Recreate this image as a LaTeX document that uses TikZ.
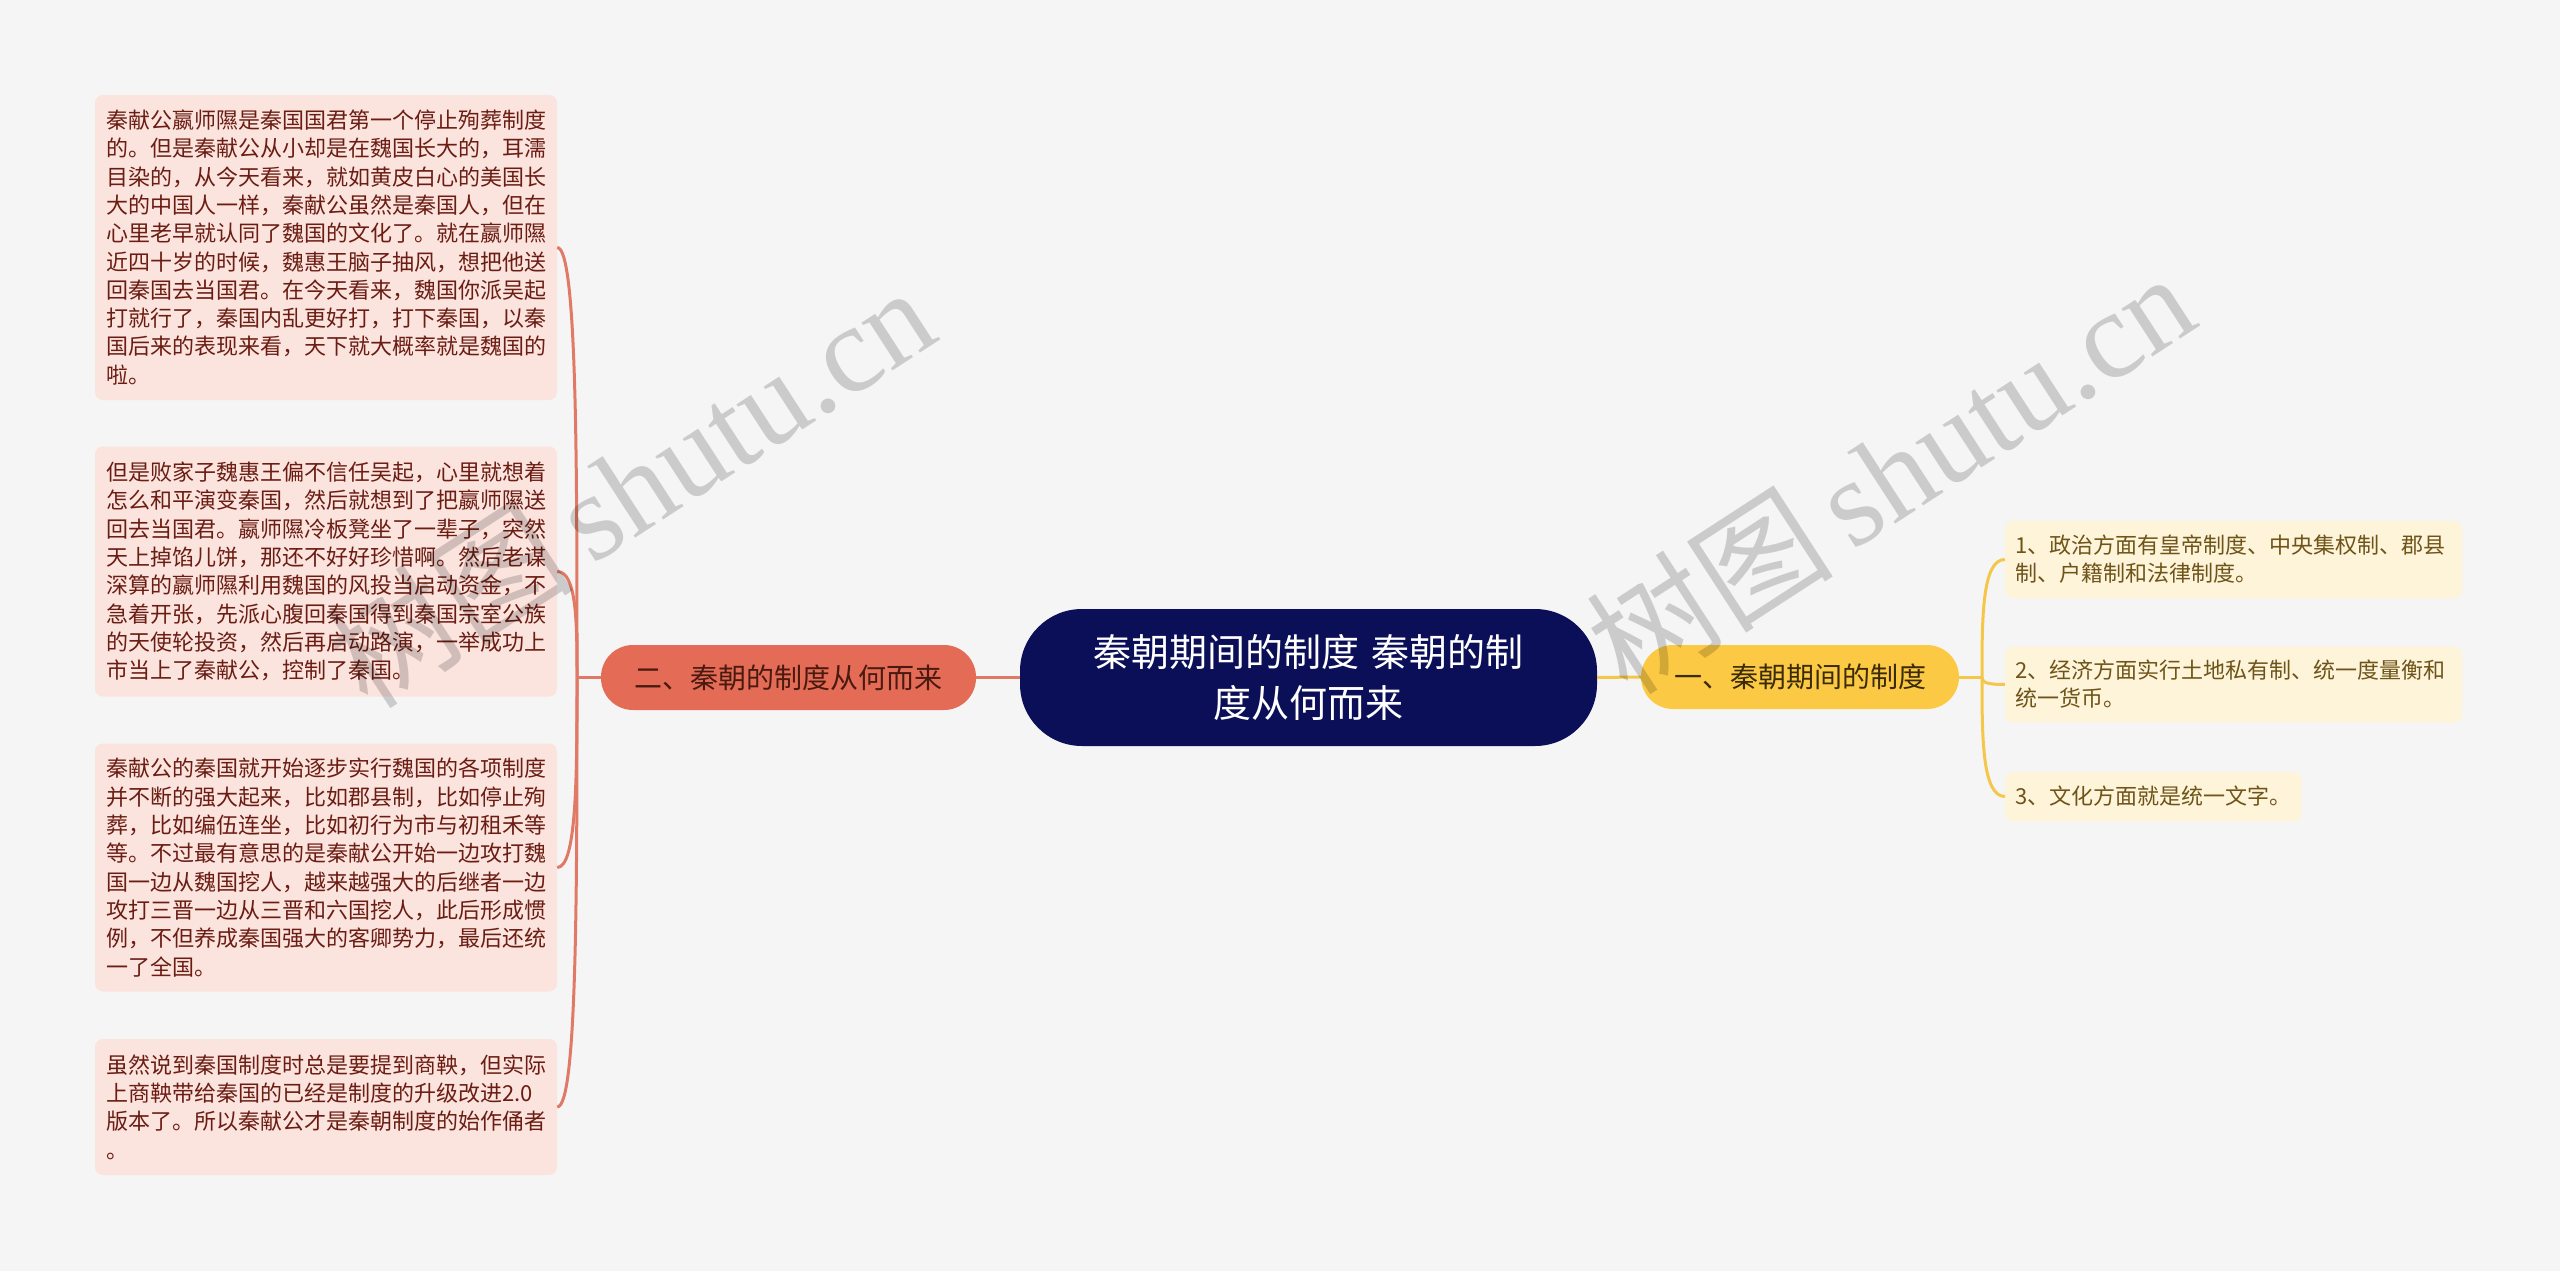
\documentclass[tikz,border=0pt]{standalone}
\usepackage{fontspec}
\setmainfont{Noto Sans CJK SC}
\newfontfamily\wmserif{Liberation Serif}
\newfontfamily\wmcjk{Noto Sans CJK SC}
\usetikzlibrary{calc}
\definecolor{bgc}{HTML}{F5F5F5}
\definecolor{centerfill}{HTML}{0B0F57}
\definecolor{lmainfill}{HTML}{E46C56}
\definecolor{rmainfill}{HTML}{FCC944}
\definecolor{lmaintext}{HTML}{4A1A10}
\definecolor{rmaintext}{HTML}{3B2C07}
\definecolor{lleaffill}{HTML}{FBE3DE}
\definecolor{rleaffill}{HTML}{FEF4DA}
\definecolor{lleaftext}{HTML}{6B1D13}
\definecolor{rleaftext}{HTML}{6E5418}
\definecolor{lline}{HTML}{E07A66}
\definecolor{rline}{HTML}{F4C64A}
\begin{document}
\begin{tikzpicture}[x=1pt,y=-1pt,
  centernode/.style={fill=centerfill, text=white, rounded corners=62pt,
    minimum width=577pt, minimum height=137pt, inner sep=0pt,
    text width=470pt, align=center, font=\fontsize{38}{51}\selectfont},
  mainL/.style={fill=lmainfill, text=lmaintext, rounded corners=32pt,
    minimum width=375pt, minimum height=65pt, inner sep=0pt,
    font=\fontsize{28}{34}\selectfont},
  mainR/.style={fill=rmainfill, text=rmaintext, rounded corners=32pt,
    minimum width=318pt, minimum height=64pt, inner sep=0pt,
    font=\fontsize{28}{34}\selectfont},
  leafL/.style={fill=lleaffill, text=lleaftext, rounded corners=8pt,
    text width=440pt, inner xsep=11pt, inner ysep=0pt, align=left,
    font=\fontsize{22}{28.3}\selectfont},
  leafR/.style={fill=rleaffill, text=rleaftext, rounded corners=8pt,
    inner xsep=10pt, inner ysep=0pt, align=left,
    font=\fontsize{22}{28}\selectfont},
  lineL/.style={draw=lline, line width=3pt},
  lineR/.style={draw=rline, line width=3pt},
  wm/.style={text=black, text opacity=0.17, inner sep=0pt}
]
\fill[bgc] (0,0) rectangle (2560,1271);
\useasboundingbox (0,0) rectangle (2560,1271);

% central topic
\node[centernode] (c) at (1308.5,677.5) {秦朝期间的制度 秦朝的制\\度从何而来};

% main branches
\node[mainL] (L) at (788.5,677.5) {二、秦朝的制度从何而来};
\node[mainR] (R) at (1800,677) {一、秦朝期间的制度};

% left leaves
\node[leafL, minimum height=305pt] (l1) at (326,247.5) {秦献公嬴师隰是秦国国君第一个停止殉葬制度\\的。但是秦献公从小却是在魏国长大的，耳濡\\目染的，从今天看来，就如黄皮白心的美国长\\大的中国人一样，秦献公虽然是秦国人，但在\\心里老早就认同了魏国的文化了。就在嬴师隰\\近四十岁的时候，魏惠王脑子抽风，想把他送\\回秦国去当国君。在今天看来，魏国你派吴起\\打就行了，秦国内乱更好打，打下秦国，以秦\\国后来的表现来看，天下就大概率就是魏国的\\啦。};
\node[leafL, minimum height=250pt] (l2) at (326,571.5) {但是败家子魏惠王偏不信任吴起，心里就想着\\怎么和平演变秦国，然后就想到了把嬴师隰送\\回去当国君。嬴师隰冷板凳坐了一辈子，突然\\天上掉馅儿饼，那还不好好珍惜啊。然后老谋\\深算的嬴师隰利用魏国的风投当启动资金，不\\急着开张，先派心腹回秦国得到秦国宗室公族\\的天使轮投资，然后再启动路演，一举成功上\\市当上了秦献公，控制了秦国。};
\node[leafL, minimum height=248pt] (l3) at (326,867.5) {秦献公的秦国就开始逐步实行魏国的各项制度\\并不断的强大起来，比如郡县制，比如停止殉\\葬，比如编伍连坐，比如初行为市与初租禾等\\等。不过最有意思的是秦献公开始一边攻打魏\\国一边从魏国挖人，越来越强大的后继者一边\\攻打三晋一边从三晋和六国挖人，此后形成惯\\例，不但养成秦国强大的客卿势力，最后还统\\一了全国。};
\node[leafL, minimum height=136pt] (l4) at (326,1107) {虽然说到秦国制度时总是要提到商鞅，但实际\\上商鞅带给秦国的已经是制度的升级改进2.0\\版本了。所以秦献公才是秦朝制度的始作俑者\\。};

% right leaves
\node[leafR, text width=437pt, minimum height=77pt] (r1) at (2233.5,559.5) {1、政治方面有皇帝制度、中央集权制、郡县\\制、户籍制和法律制度。};
\node[leafR, text width=437pt, minimum height=76pt] (r2) at (2233.5,684.5) {2、经济方面实行土地私有制、统一度量衡和\\统一货币。};
\node[leafR, minimum height=50pt, anchor=west] (r3) at (2005,796.5) {3、文化方面就是统一文字。};

% connectors: centre to main branches
\draw[lineL] (c.west) -- (L.east);
\draw[lineR] (c.east) -- (R.west);

% left fan
\coordinate (ls) at (577,677.5);
\draw[lineL] (L.west) -- (ls);
\foreach \n in {l1,l2,l3,l4}{
  \draw[lineL] (ls) .. controls ($(ls)!0.5!(ls|-\n.east)$) and (ls|-\n.east) .. (\n.east);
}

% right fan
\coordinate (rs) at (1982,677);
\draw[lineR] (R.east) -- (rs);
\foreach \n in {r1,r2,r3}{
  \draw[lineR] (rs) .. controls ($(rs)!0.5!(rs|-\n.west)$) and (rs|-\n.west) .. (\n.west);
}

% watermarks
\node[wm, anchor=base west, rotate=33] (wm1) at (368,712) {\fontsize{124}{124}\selectfont\wmcjk 树图\hspace{20pt}\wmserif shutu.cn};
\node[wm, anchor=base west, rotate=33] (wm2) at (1628,698) {\fontsize{124}{124}\selectfont\wmcjk 树图\hspace{20pt}\wmserif shutu.cn};
\end{tikzpicture}
\end{document}
